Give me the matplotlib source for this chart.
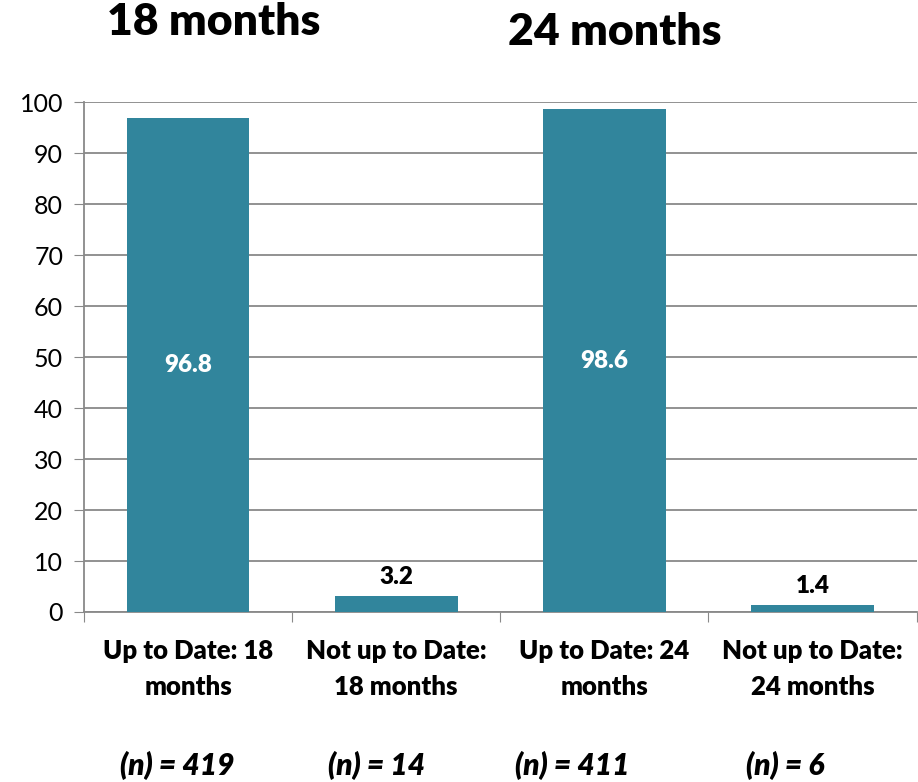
import matplotlib.pyplot as plt

# values
categories = ['Up to Date: 18\nmonths', 'Not up to Date:\n18 months',
              'Up to Date: 24\nmonths', 'Not up to Date:\n24 months']
percent = [96.8, 3.2, 98.6, 1.4]
n_labels = ['(n) = 419', '(n) = 14', '(n) = 411', '(n) = 6']
group_titles = ['18 months', '24 months']

bar_color = '#31859C'
plt.rcParams['font.family'] = ['Lato', 'DejaVu Sans']
heavy = 'heavy'

fig = plt.figure(figsize=(9.18, 7.82), dpi=100)
ax = fig.add_axes([0.0915, 0.2174, 0.907, 0.652])

x = list(range(len(categories)))
bars = ax.bar(x, percent, width=0.59, color=bar_color, zorder=3)

ax.set_xlim(-0.5, len(categories) - 0.5)
ax.set_ylim(0, 100)
ax.set_yticks(range(0, 101, 10))
ax.tick_params(axis='y', labelsize=18, length=7, color='#898989', pad=8)
ax.yaxis.grid(True, color='#898989', linewidth=1.3, zorder=0)

# category labels sit between tick marks, ticks at the category edges
ax.set_xticks([i - 0.5 for i in range(len(categories) + 1)])
ax.set_xticklabels([])
ax.tick_params(axis='x', length=7, color='#898989', direction='out')
for i, lab in enumerate(categories):
    ax.text(i, -5.2, lab, ha='center', va='top', fontsize=18.5, fontweight=heavy,
            linespacing=1.6)

for s in ['top', 'right']:
    ax.spines[s].set_visible(False)
ax.spines['left'].set_color('#898989')
ax.spines['bottom'].set_color('#898989')
ax.spines['left'].set_linewidth(1.3)
ax.spines['bottom'].set_linewidth(1.3)

# data labels: inside for the tall bars, above for the short ones
for b, v in zip(bars, percent):
    cx = b.get_x() + b.get_width() / 2
    if v > 50:
        ax.text(cx, v / 2, f'{v}', ha='center', va='center', color='white',
                fontsize=17.5, fontweight=heavy)
    else:
        ax.text(cx, v + 1.5, f'{v}', ha='center', va='bottom', color='black',
                fontsize=17.5, fontweight=heavy)

# sample sizes under each category
n_x = [177, 377, 572, 785]
for xx, lab in zip(n_x, n_labels):
    fig.text(xx / 918, 1 - 765 / 782, lab, ha='center', va='center',
             fontsize=21.5, fontweight=heavy, style='italic')

fig.text(214 / 918, 1 - 22 / 782, group_titles[0], ha='center', va='center',
         fontsize=32, fontweight=heavy)
fig.text(615 / 918, 1 - 32 / 782, group_titles[1], ha='center', va='center',
         fontsize=32, fontweight=heavy)

fig.savefig('out.png', dpi=100)
